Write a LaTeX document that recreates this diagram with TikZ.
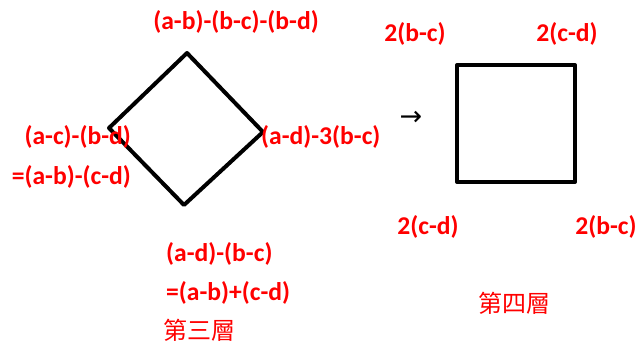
\documentclass[tikz,border=0pt]{standalone}
\usepackage{fontspec}
\setmainfont{Carlito}
\newfontfamily\cjkfont{Noto Sans CJK TC}
\newfontfamily\arrowfont{DejaVu Sans}
\usetikzlibrary{positioning}
\definecolor{termred}{RGB}{255,0,0}
\tikzset{
  term/.style={text=termred, font=\bfseries\fontsize{25.6}{30}\selectfont, inner sep=0pt},
  layer/.style={text=termred, font=\cjkfont\fontsize{24}{28}\selectfont, inner sep=0pt},
  outline/.style={line width=4pt, line join=round}
}
\begin{document}
\begin{tikzpicture}[x=1pt, y=-1pt]
  \useasboundingbox (0,0) rectangle (638,347);
  % Third layer (diamond)
  \coordinate (dtop) at (187,53);
  \coordinate (dleft) at (109,128);
  \coordinate (dright) at (263,132);
  \coordinate (dbot) at (184,205);
  \draw[outline] (dtop) -- (dright) -- (dbot) -- (dleft) -- cycle;
  \node[term] (ttop) at (236,22) {(a-b)-(b-c)-(b-d)};
  \node[term, anchor=east] (tleft) at (131,137) {(a-c)-(b-d)};
  \node[term, anchor=east] (tleftb) at (131,177) {=(a-b)-(c-d)};
  \node[term, anchor=west] (tright) at (261,137) {(a-d)-3(b-c)};
  \node[term, anchor=west] (tbot) at (166,254) {(a-d)-(b-c)};
  \node[term, anchor=west] (tbotb) at (166,293) {=(a-b)+(c-d)};
  \node[layer, anchor=west] (third) at (163,330) {第三層};
  % Arrow
  \node[font=\arrowfont\fontsize{27}{30}\selectfont, inner sep=0pt] (to) at (411,118) {→};
  % Fourth layer (square)
  \coordinate (sa) at (457,65);
  \coordinate (sb) at (575,182);
  \draw[outline] (sa) rectangle (sb);
  \node[term] (qtl) at (415,34) {2(b-c)};
  \node[term] (qtr) at (567,34) {2(c-d)};
  \node[term] (qbl) at (428,227) {2(c-d)};
  \node[term] (qbr) at (606,227) {2(b-c)};
  \node[layer] (fourth) at (514,303) {第四層};
\end{tikzpicture}
\end{document}
